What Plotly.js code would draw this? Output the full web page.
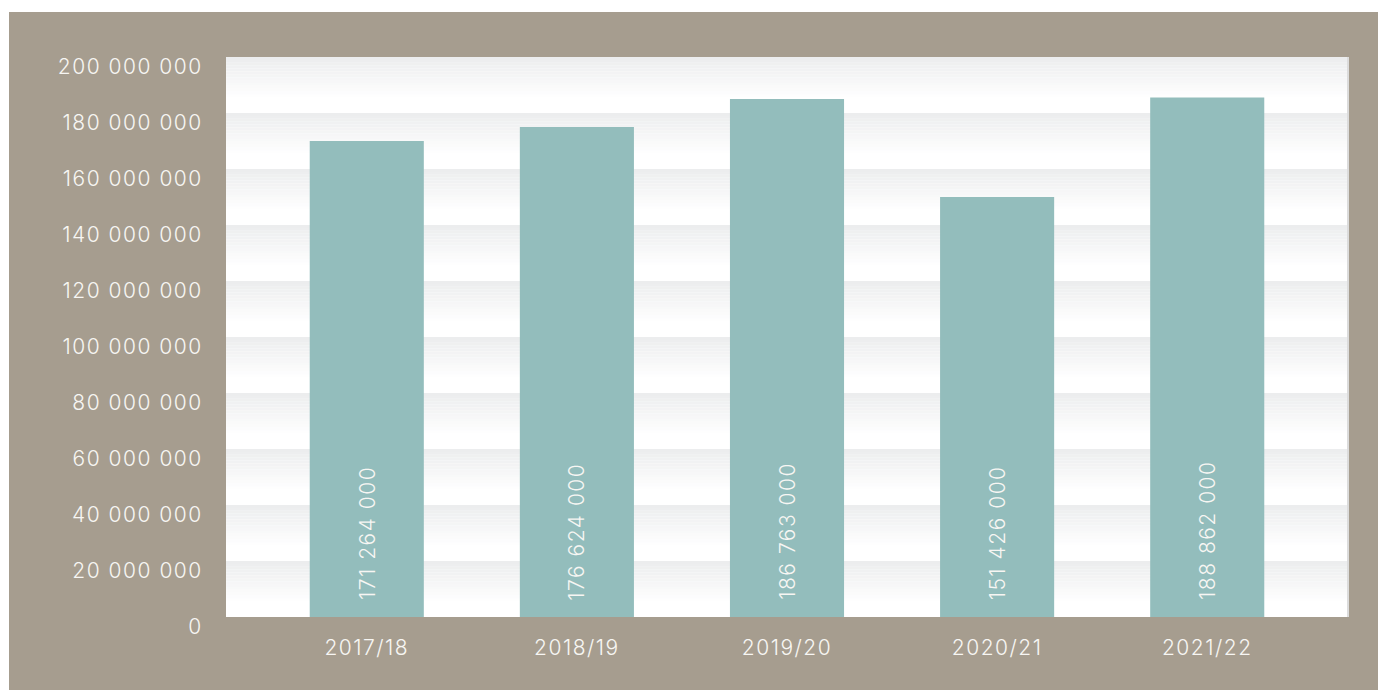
<!DOCTYPE html>
<html>
<head>
<meta charset="utf-8">
<script src="https://cdn.plot.ly/plotly-3.0.1.min.js"></script>
<style>
html,body{margin:0;padding:0;background:#ffffff;}
#chart{position:absolute;left:9px;top:12px;width:1369px;height:678px;}
#chart svg text{letter-spacing:1.5px;}
</style>
</head>
<body>
<div id="chart"></div>
<script>
const categories = ["2017/18", "2018/19", "2019/20", "2020/21", "2021/22"];
// bar heights as drawn in the reference
const values = [170000000, 175000000, 185000000, 150000000, 185500000];
// value labels as printed on the bars
const valueLabels = ["171 264 000", "176 624 000", "186 763 000", "151 426 000", "188 862 000"];
const yTicks = [0, 20000000, 40000000, 60000000, 80000000, 100000000, 120000000, 140000000, 160000000, 180000000, 200000000];
const yTickLabels = ["0", "20 000 000", "40 000 000", "60 000 000", "80 000 000", "100 000 000", "120 000 000", "140 000 000", "160 000 000", "180 000 000", "200 000 000"];

const FONT = "Inter, 'Open Sans', sans-serif";
const TXT = "#f7f6f3";

// gradient bands between grid lines (styling only)
const shapes = [];
const bandH = 20000000;
const gradFrac = 0.72;
const steps = 14;
const bandTopRGB = [236, 237, 238];
for (let b = 0; b < 10; b++) {
  const yTop = (b + 1) * bandH;
  for (let s = 0; s < steps; s++) {
    const t = s / steps;
    const c = bandTopRGB.map(v => Math.round(v + (255 - v) * t));
    shapes.push({
      type: "rect", layer: "below", xref: "paper", yref: "y",
      x0: 0, x1: 1,
      y0: yTop - bandH * gradFrac * (s + 1) / steps,
      y1: yTop - bandH * gradFrac * s / steps,
      fillcolor: `rgb(${c[0]},${c[1]},${c[2]})`, line: {width: 0}
    });
  }
}
shapes.push({type: "line", xref: "paper", yref: "paper", x0: 1, x1: 1, y0: 0, y1: 1,
  line: {color: "#dcdcdc", width: 2}});

const annotations = categories.map((c, i) => ({
  x: c, y: 0, xref: "x", yref: "y", text: valueLabels[i], showarrow: false,
  textangle: -90, yanchor: "bottom", xanchor: "center", yshift: 23,
  font: {family: FONT, size: 21, color: TXT, weight: 300}
}));

const trace = {
  type: "bar", x: categories, y: values, width: 0.543,
  marker: {color: "#93bdbc", line: {width: 0}},
  hoverinfo: "skip"
};

const layout = {
  width: 1369, height: 678,
  paper_bgcolor: "#a69d8f", plot_bgcolor: "#ffffff",
  margin: {l: 217, r: 30, t: 45, b: 73, pad: 0},
  showlegend: false,
  font: {family: FONT, color: TXT, size: 21, weight: 300},
  xaxis: {
    type: "category", range: [-0.67, 4.67], showgrid: false, zeroline: false,
    showline: false, ticks: "outside", ticklen: 12, tickcolor: "rgba(0,0,0,0)",
    tickfont: {family: FONT, size: 21, color: TXT, weight: 300}, fixedrange: true
  },
  yaxis: {
    range: [0, 200000000], tickvals: yTicks, ticktext: yTickLabels,
    showgrid: false, zeroline: false, showline: false,
    ticks: "outside", ticklen: 18, tickcolor: "rgba(0,0,0,0)",
    ticklabelshift: 10,
    tickfont: {family: FONT, size: 21, color: TXT, weight: 300}, fixedrange: true
  },
  shapes: shapes,
  annotations: annotations
};

Plotly.newPlot("chart", [trace], layout, {displayModeBar: false, staticPlot: true});
</script>
</body>
</html>
